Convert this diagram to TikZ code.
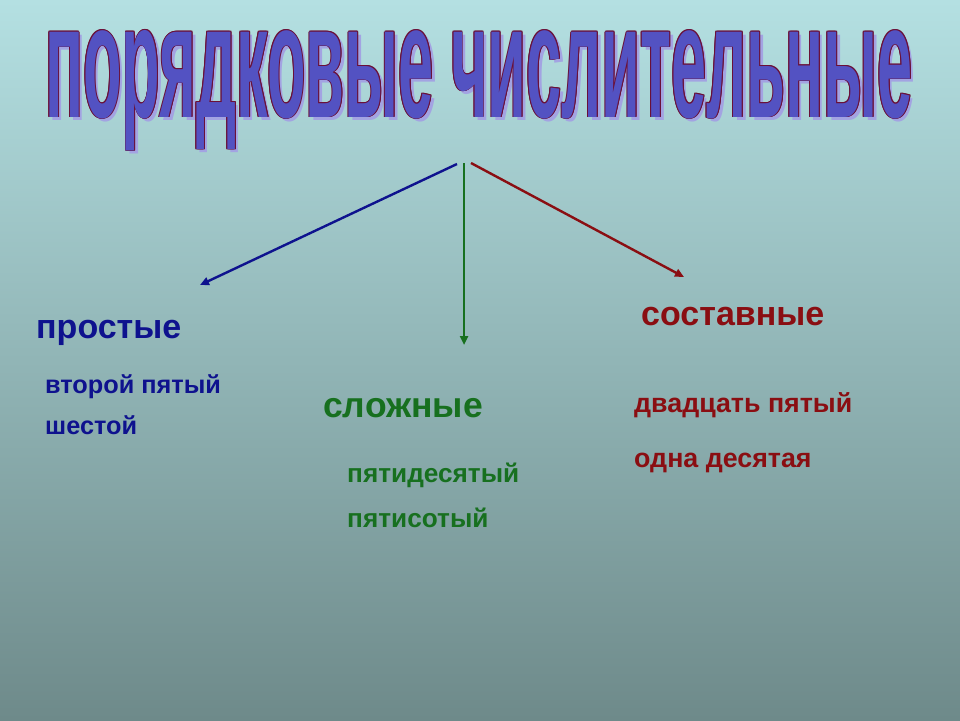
\documentclass[tikz,border=0pt]{standalone}
\usepackage{fontspec}
\setmainfont{Liberation Sans}
\usepackage{graphicx}
\usetikzlibrary{arrows.meta}
\definecolor{bgtop}{HTML}{B4E0E2}
\definecolor{bgbot}{HTML}{6E8A8A}
\definecolor{ttlblue}{HTML}{5352C2}
\definecolor{ttlshadow}{HTML}{A3A3E2}
\definecolor{ttlline}{HTML}{6A1038}
\definecolor{cblue}{HTML}{0E128E}
\definecolor{cgreen}{HTML}{17701F}
\definecolor{cred}{HTML}{8A0E12}
\newcommand{\mytitletext}{\resizebox{867pt}{87pt}{\bfseries порядковые числительные}}
\tikzset{
  ttl/.style={inner sep=0pt, anchor=base west},
  head/.style={inner sep=0pt, anchor=base west, font=\bfseries\fontsize{34}{40}\selectfont},
  sub/.style={inner sep=0pt, anchor=base west, font=\bfseries\fontsize{25.3}{30}\selectfont},
  arr/.style={line width=2.4pt, -{Triangle[length=9pt,width=8pt]}},
}
\begin{document}
\begin{tikzpicture}[x=1pt,y=-1pt]
\useasboundingbox (0,0) rectangle (960,720);
\shade[top color=bgtop, bottom color=bgbot] (0,0) rectangle (960,720);
% title: shadow, outline, fill
\node[ttl, text=ttlshadow] (tshadow) at (48.5,120.5) {\mytitletext};
\foreach \dx/\dy [count=\i] in {-0.8/0,0.8/0,0/-0.8,0/0.8,-0.6/-0.6,0.6/0.6,-0.6/0.6,0.6/-0.6}
  \node[ttl, text=ttlline] (tline\i) at (45+\dx,117+\dy) {\mytitletext};
\node[ttl, text=ttlblue] (title) at (45,117) {\mytitletext};
% arrow start points and ends
\coordinate (sblue) at (457,164);
\coordinate (sgreen) at (464,163);
\coordinate (sred) at (471,163);
\coordinate (eblue) at (200,285);
\coordinate (egreen) at (464,345);
\coordinate (ered) at (684,277);
\draw[arr, cblue] (sblue) -- (eblue);
\draw[arr, cgreen] (sgreen) -- (egreen);
\draw[arr, cred] (sred) -- (ered);
% labels
\node[head, text=cblue] (prostye) at (36,338) {простые};
\node[sub, text=cblue] (ex1a) at (45,393) {второй пятый};
\node[sub, text=cblue] (ex1b) at (45,434) {шестой};
\node[head, text=cgreen, font=\bfseries\fontsize{35.5}{40}\selectfont] (slozhnye) at (323,417) {сложные};
\node[sub, text=cgreen, font=\bfseries\fontsize{26.2}{30}\selectfont] (ex2a) at (347,482) {пятидесятый};
\node[sub, text=cgreen, font=\bfseries\fontsize{26.2}{30}\selectfont] (ex2b) at (347,527) {пятисотый};
\node[head, text=cred] (sostavnye) at (641,325) {составные};
\node[sub, text=cred, font=\bfseries\fontsize{26.8}{30}\selectfont] (ex3a) at (634,412) {двадцать пятый};
\node[sub, text=cred, font=\bfseries\fontsize{26.8}{30}\selectfont] (ex3b) at (634,467) {одна десятая};
\end{tikzpicture}
\end{document}
